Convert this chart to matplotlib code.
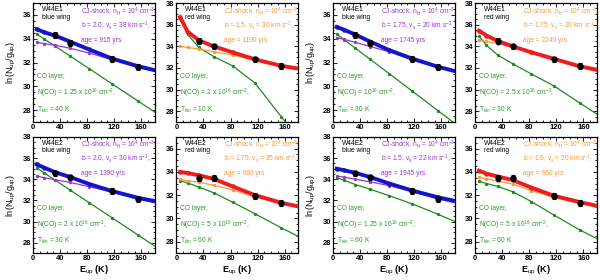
import numpy as np
import matplotlib
matplotlib.use("Agg")
import matplotlib.pyplot as plt
from matplotlib.ticker import MultipleLocator

plt.rcParams['font.family'] = ['Liberation Sans', 'DejaVu Sans']
plt.rcParams['mathtext.fontset'] = 'custom'
plt.rcParams['mathtext.rm'] = 'Liberation Sans'
plt.rcParams['mathtext.it'] = 'Liberation Sans:italic'

# CO level energies (K) and observed levels
E_levels = [5.5, 16.6, 33.2, 55.3, 83.0, 116.2, 154.9, 199.1]
E_obs = [33.2, 55.3, 116.2, 154.9]

# observed ln(N/g)
obs_e1_blue = [34.3, 33.65, 32.3, 31.65]
obs_e1_red = [34.5, 34.0, 32.8, 32.2]
obs_e2_blue = [34.55, 34.2, 32.9, 32.1]
obs_e2_red = [33.45, 33.45, 31.9, 31.3]
obs_err = 0.25

# model curves, one set per panel: total, shock, CO layer
total_1 = [34.8, 34.55, 34.25, 33.75, 33.1, 32.35, 31.7, 31.1]
shock_1 = [33.7, 33.6, 33.45, 33.2, 32.8, 32.25, 31.6, 31.0]
layer_1 = [34.4, 33.98, 33.36, 32.53, 31.49, 30.24, 28.78, 27.12]

total_2 = [36.7, 35.35, 34.55, 34.0, 33.45, 32.8, 32.2, 31.75]
shock_2 = [34.0, 33.9, 33.75, 33.5, 33.2, 32.7, 32.1, 31.7]
layer_2 = [36.6, 35.1, 33.9, 33.05, 32.2, 30.6, 27.5, 24.0]

total_3 = [35.0, 34.75, 34.35, 33.75, 33.05, 32.35, 31.65, 31.0]
shock_3 = [34.1, 33.95, 33.7, 33.35, 32.9, 32.25, 31.6, 30.95]
layer_3 = [34.4, 33.92, 33.2, 32.26, 31.07, 29.64, 27.97, 26.07]

total_4 = [35.45, 35.0, 34.5, 34.0, 33.45, 32.85, 32.15, 31.6]
shock_4 = [34.55, 34.45, 34.25, 33.9, 33.4, 32.75, 32.05, 31.4]
layer_4 = [34.95, 34.1, 33.2, 32.4, 31.45, 30.35, 28.75, 26.95]

total_5 = [35.4, 35.1, 34.65, 34.2, 33.55, 32.9, 32.25, 31.7]
shock_5 = [34.3, 34.15, 33.95, 33.7, 33.3, 32.8, 32.15, 31.5]
layer_5 = [35.07, 34.6, 33.9, 32.96, 31.79, 30.39, 28.75, 26.88]

total_6 = [34.0, 33.9, 33.7, 33.4, 32.75, 32.0, 31.35, 30.8]
shock_6 = [33.35, 33.25, 33.1, 32.85, 32.45, 31.85, 31.25, 30.7]
layer_6 = [33.25, 33.05, 32.7, 32.2, 31.4, 30.4, 29.2, 27.9]

total_7 = [35.0, 34.85, 34.6, 34.2, 33.6, 32.95, 32.3, 31.7]
shock_7 = [34.3, 34.2, 34.0, 33.75, 33.4, 32.85, 32.15, 31.5]
layer_7 = [34.15, 33.9, 33.5, 33.05, 32.45, 31.7, 30.7, 29.5]

total_8 = [34.1, 33.85, 33.6, 33.3, 32.65, 31.95, 31.4, 30.85]
shock_8 = [33.55, 33.4, 33.2, 32.95, 32.4, 31.8, 31.3, 30.8]
layer_8 = [33.2, 33.0, 32.75, 32.3, 31.45, 30.3, 29.0, 27.7]

# panel labels
sources = ["W44E1", "W44E1", "W44E1", "W44E1", "W44E2", "W44E2", "W44E2", "W44E2"]
wings = ["blue wing", "red wing", "blue wing", "red wing",
         "blue wing", "red wing", "blue wing", "red wing"]
b_vals = ["2.0", "1.5", "1.75", "1.75", "2.0", "1.75", "1.5", "1.0"]
vs_vals = ["38", "30", "20", "20", "30", "35", "22", "20"]
ages = ["915", "1190", "1745", "2240", "1390", "680", "1945", "660"]
nco_vals = ["1.25 x 10$^{16}$", "2 x 10$^{16}$", "10$^{16}$", "2.5 x 10$^{16}$",
            "2 x 10$^{16}$", "5 x 10$^{16}$", "1.25 x 10$^{16}$", "5 x 10$^{16}$"]
tkin_vals = ["40", "10", "30", "30", "30", "60", "60", "60"]
ytops = [37, 38, 37, 38, 38, 37, 38, 37]

totals = [total_1, total_2, total_3, total_4, total_5, total_6, total_7, total_8]
shocks = [shock_1, shock_2, shock_3, shock_4, shock_5, shock_6, shock_7, shock_8]
layers = [layer_1, layer_2, layer_3, layer_4, layer_5, layer_6, layer_7, layer_8]
observed = [obs_e1_blue, obs_e1_red, obs_e1_blue, obs_e1_red,
            obs_e2_blue, obs_e2_red, obs_e2_blue, obs_e2_red]

BLUE = "#1414c8"
RED = "#ee1c1c"
PURPLE = "#9a36d0"
ORANGE = "#f29a3a"
GREEN = "#1f8a1f"
GREEN_TXT = "#2a9a2a"

fig = plt.figure(figsize=(6, 2.8), dpi=100)
lefts = [0.055, 0.294, 0.555, 0.792]
rows = [(0.564, 0.425), (0.095, 0.416)]
fs = 4.8

for i in range(8):
    row, col = divmod(i, 4)
    bottom, height = rows[row]
    ax = fig.add_axes([lefts[col], bottom, 0.203, height])
    red = wings[i].startswith("red")
    thick = RED if red else BLUE
    thin = ORANGE if red else PURPLE

    ax.plot(E_levels, layers[i], '-o', color=GREEN, lw=0.9, ms=1.4, zorder=2)
    ax.plot(E_levels, shocks[i], '-o', color=thin, lw=0.9, ms=1.4, zorder=3)
    ax.plot(E_levels, totals[i], '-o', color=thick, lw=2.8, ms=2.2, zorder=4)
    ax.errorbar(E_obs, observed[i], yerr=obs_err, fmt='o', color='k', ms=3.6,
                elinewidth=0.8, capsize=1.2, capthick=0.8, zorder=5)

    ax.set_xlim(0, 180)
    ax.set_ylim(27, ytops[i])
    ax.xaxis.set_major_locator(MultipleLocator(40))
    ax.xaxis.set_minor_locator(MultipleLocator(10))
    ax.yaxis.set_major_locator(MultipleLocator(2))
    ax.yaxis.set_minor_locator(MultipleLocator(0.5))
    ax.tick_params(which='both', direction='in', top=True, right=True,
                   labelsize=5.5, width=0.6, pad=1.5)
    ax.tick_params(which='major', length=3)
    ax.tick_params(which='minor', length=1.5)
    for sp in ax.spines.values():
        sp.set_linewidth(0.9)
    for lab in ax.get_xticklabels() + ax.get_yticklabels():
        lab.set_fontweight('bold')

    tr = ax.transAxes
    ax.text(0.07, 0.945, sources[i], transform=tr, fontsize=fs, color='k', va='center')
    ax.text(0.07, 0.88, wings[i], transform=tr, fontsize=fs, color='k', va='center')
    ax.text(0.39, 0.93, r"CJ-shock, n$_{\rm H}$ = 10$^{4}$ cm$^{-3}$,", transform=tr,
            fontsize=fs, color=thin, va='center')
    ax.text(0.39, 0.81, "b = %s, v$_{\\rm s}$ = %s km s$^{-1}$," % (b_vals[i], vs_vals[i]),
            transform=tr, fontsize=fs, color=thin, va='center')
    ax.text(0.39, 0.685, "age = %s yrs" % ages[i], transform=tr, fontsize=fs,
            color=thin, va='center')
    ax.text(0.03, 0.385, "CO layer,", transform=tr, fontsize=fs, color=GREEN_TXT, va='center')
    ax.text(0.03, 0.245, "N(CO) = %s cm$^{-2}$," % nco_vals[i], transform=tr,
            fontsize=fs, color=GREEN_TXT, va='center')
    ax.text(0.03, 0.105, "T$_{\\rm kin}$ = %s K" % tkin_vals[i], transform=tr,
            fontsize=fs, color=GREEN_TXT, va='center')

    if col in (0, 2):
        ax.set_ylabel(r"ln(N$_{\rm up}$/g$_{\rm up}$)", fontsize=6.5)
        ax.yaxis.set_label_coords(-0.125, 0.5)
    if row == 1:
        ax.set_xlabel(r"E$_{\rm up}$ (K)", fontsize=6.5, fontweight='bold')
        ax.xaxis.set_label_coords(0.5, -0.09)

fig.savefig("out.png", dpi=100)
